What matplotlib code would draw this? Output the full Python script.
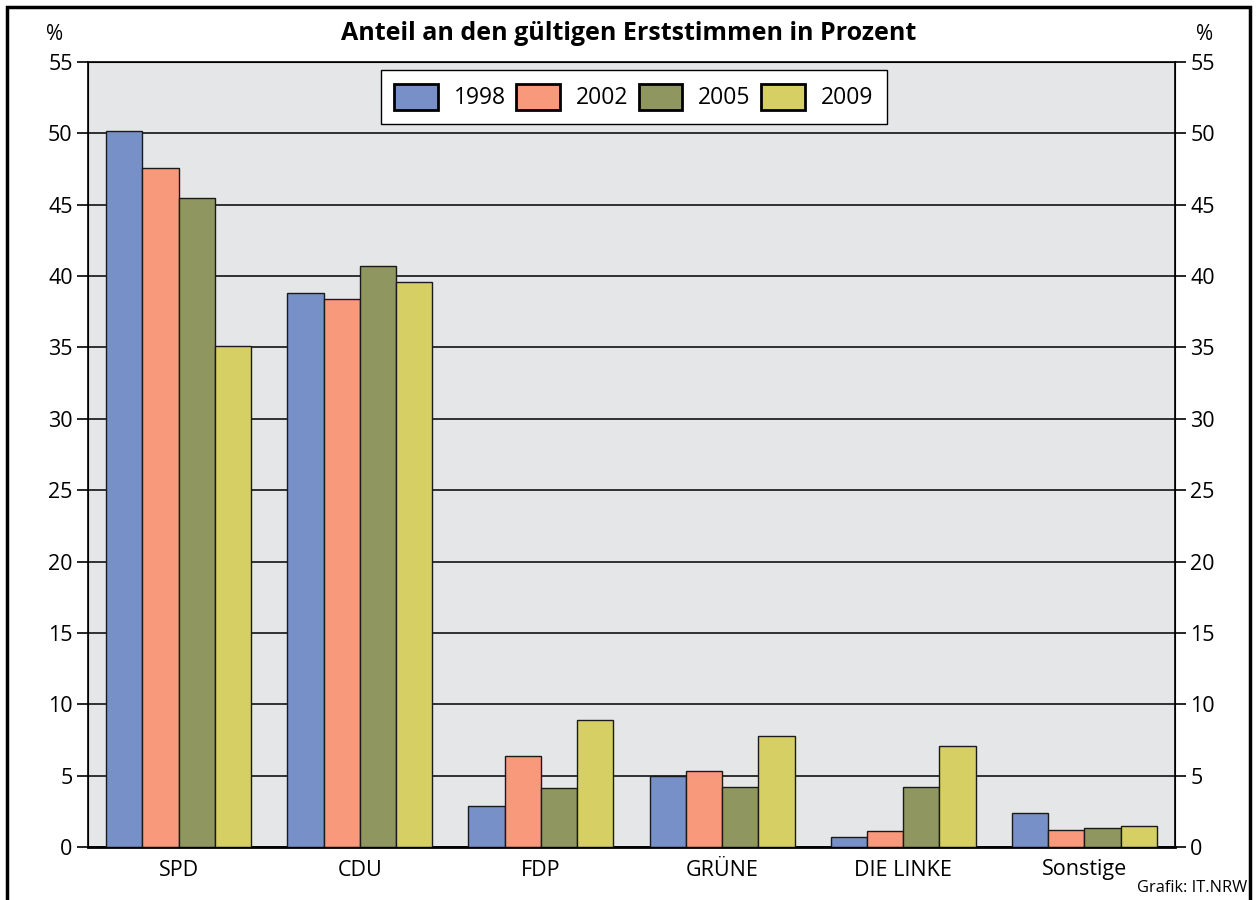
import numpy as np
import matplotlib
matplotlib.use("Agg")
import matplotlib.pyplot as plt
from matplotlib.patches import Rectangle

plt.rcParams['font.family'] = ['Open Sans', 'DejaVu Sans']

# Data
parties = ["SPD", "CDU", "FDP", "GRÜNE", "DIE LINKE", "Sonstige"]
years = ["1998", "2002", "2005", "2009"]
v1998 = [50.2, 38.8, 2.9, 5.0, 0.7, 2.4]
v2002 = [47.6, 38.4, 6.4, 5.3, 1.1, 1.2]
v2005 = [45.5, 40.7, 4.1, 4.2, 4.2, 1.3]
v2009 = [35.1, 39.6, 8.9, 7.8, 7.1, 1.5]
yticks = list(range(0, 56, 5))

colors = ["#7890c8", "#f7997a", "#909660", "#d6d064"]
series = [v1998, v2002, v2005, v2009]

fig = plt.figure(figsize=(12.57, 9), dpi=100)
ax = fig.add_axes([88 / 1257, 1 - 847 / 900, (1175 - 88) / 1257, (847 - 62) / 900])
ax.set_facecolor("#e5e6e8")

x = np.arange(len(parties))
w = 0.2
for i, (vals, c, lab) in enumerate(zip(series, colors, years)):
    ax.bar(x + (i - 1.5) * w, vals, width=w, color=c, edgecolor="#1a1a1a",
           linewidth=1.0, label=lab, zorder=3)

ax.set_xlim(-0.5, len(parties) - 0.5)
ax.set_ylim(0, 55)
ax.set_yticks(yticks)
ax.yaxis.grid(True, color="black", linewidth=1.1, zorder=1)
ax.set_axisbelow(True)
ax.set_xticks(x)
ax.set_xticklabels(parties, fontsize=15.5)
ax.tick_params(axis="x", length=0, pad=9)
ax.tick_params(axis="y", length=8, width=1.2, labelsize=15.5, pad=3)

for s in ["left", "right", "top"]:
    ax.spines[s].set_linewidth(1.2)
ax.spines["bottom"].set_linewidth(2)

ax2 = ax.twinx()
ax2.set_ylim(0, 55)
ax2.set_yticks(yticks)
ax2.tick_params(axis="y", length=8, width=1.2, labelsize=15.5, pad=3)

leg = ax.legend(loc="upper center", ncol=4, fontsize=16.5, frameon=True,
                fancybox=False, edgecolor="black", framealpha=1,
                handlelength=1.9, handleheight=1.4, columnspacing=0.45,
                handletextpad=0.7, borderpad=0.6, borderaxespad=0,
                bbox_to_anchor=(0.502, 0.99))
leg.get_frame().set_linewidth(1.0)
for h in leg.legend_handles:
    h.set_linewidth(2)
    h.set_edgecolor("black")

fig.text(0.5, 1 - 33 / 900, "Anteil an den gültigen Erststimmen in Prozent",
         ha="center", va="center", fontsize=18, fontweight="bold")
fig.text(55 / 1257, 1 - 34 / 900, "%", ha="center", va="center", fontsize=15)
fig.text(1205 / 1257, 1 - 34 / 900, "%", ha="center", va="center", fontsize=15)
fig.text(1247 / 1257, 1 - 888 / 900, "Grafik: IT.NRW", ha="right", va="center",
         fontsize=11.8)

# outer frame
fig.patches.append(Rectangle((7 / 1257, -0.05), (1250 - 7) / 1257, 1.05 - 7 / 900,
                             transform=fig.transFigure, fill=False,
                             edgecolor="black", linewidth=2.5))

fig.savefig("out.png", dpi=100)
